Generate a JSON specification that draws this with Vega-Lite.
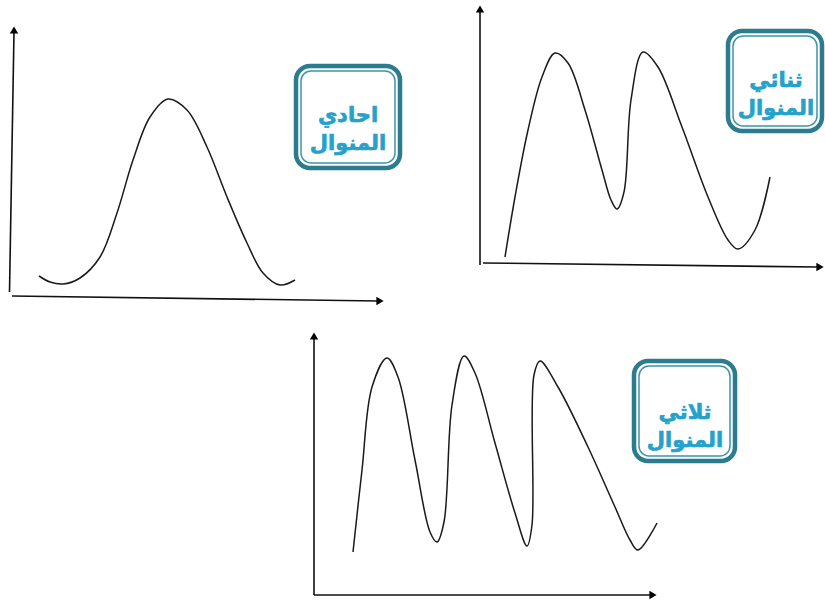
{
  "$schema": "https://vega.github.io/schema/vega-lite/v6.json",
  "width": 825,
  "height": 601,
  "autosize": {"type": "fit", "contains": "padding"},
  "padding": 0,
  "background": "white",
  "config": {"view": {"stroke": null}},
  "datasets": {
    "curves": [
      {"curve": "unimodal", "x": 39, "y": 276},
      {"curve": "unimodal", "x": 50, "y": 282},
      {"curve": "unimodal", "x": 63, "y": 284},
      {"curve": "unimodal", "x": 80, "y": 278},
      {"curve": "unimodal", "x": 100, "y": 257},
      {"curve": "unimodal", "x": 117, "y": 213},
      {"curve": "unimodal", "x": 133, "y": 160},
      {"curve": "unimodal", "x": 150, "y": 117},
      {"curve": "unimodal", "x": 168, "y": 99},
      {"curve": "unimodal", "x": 187, "y": 110},
      {"curve": "unimodal", "x": 207, "y": 147},
      {"curve": "unimodal", "x": 227, "y": 197},
      {"curve": "unimodal", "x": 247, "y": 243},
      {"curve": "unimodal", "x": 263, "y": 273},
      {"curve": "unimodal", "x": 280, "y": 285},
      {"curve": "unimodal", "x": 295, "y": 280},
      {"curve": "bimodal", "x": 505, "y": 257},
      {"curve": "bimodal", "x": 515, "y": 197},
      {"curve": "bimodal", "x": 528, "y": 130},
      {"curve": "bimodal", "x": 542, "y": 77},
      {"curve": "bimodal", "x": 555, "y": 53},
      {"curve": "bimodal", "x": 568, "y": 63},
      {"curve": "bimodal", "x": 585, "y": 110},
      {"curve": "bimodal", "x": 602, "y": 170},
      {"curve": "bimodal", "x": 611, "y": 200},
      {"curve": "bimodal", "x": 617, "y": 209},
      {"curve": "bimodal", "x": 624, "y": 192},
      {"curve": "bimodal", "x": 631, "y": 100},
      {"curve": "bimodal", "x": 643, "y": 52},
      {"curve": "bimodal", "x": 658, "y": 67},
      {"curve": "bimodal", "x": 682, "y": 127},
      {"curve": "bimodal", "x": 708, "y": 197},
      {"curve": "bimodal", "x": 728, "y": 240},
      {"curve": "bimodal", "x": 738, "y": 249},
      {"curve": "bimodal", "x": 755, "y": 230},
      {"curve": "bimodal", "x": 770, "y": 177},
      {"curve": "trimodal", "x": 353, "y": 552},
      {"curve": "trimodal", "x": 362, "y": 470},
      {"curve": "trimodal", "x": 372, "y": 387},
      {"curve": "trimodal", "x": 387, "y": 358},
      {"curve": "trimodal", "x": 398, "y": 377},
      {"curve": "trimodal", "x": 415, "y": 460},
      {"curve": "trimodal", "x": 430, "y": 532},
      {"curve": "trimodal", "x": 437, "y": 542},
      {"curve": "trimodal", "x": 444, "y": 522},
      {"curve": "trimodal", "x": 452, "y": 405},
      {"curve": "trimodal", "x": 464, "y": 356},
      {"curve": "trimodal", "x": 475, "y": 373},
      {"curve": "trimodal", "x": 495, "y": 443},
      {"curve": "trimodal", "x": 515, "y": 513},
      {"curve": "trimodal", "x": 527, "y": 546},
      {"curve": "trimodal", "x": 532, "y": 525},
      {"curve": "trimodal", "x": 534, "y": 375},
      {"curve": "trimodal", "x": 540, "y": 361},
      {"curve": "trimodal", "x": 558, "y": 387},
      {"curve": "trimodal", "x": 588, "y": 447},
      {"curve": "trimodal", "x": 615, "y": 507},
      {"curve": "trimodal", "x": 630, "y": 540},
      {"curve": "trimodal", "x": 638, "y": 550},
      {"curve": "trimodal", "x": 657, "y": 523}
    ],
    "axes": [
      {"panel": "unimodal", "dir": "up", "x": 9.5, "y": 292, "x2": 14, "y2": 32, "tx": 14, "ty": 30},
      {"panel": "unimodal", "dir": "right", "x": 12, "y": 296, "x2": 378, "y2": 301, "tx": 380, "ty": 301},
      {"panel": "bimodal", "dir": "up", "x": 480, "y": 265, "x2": 480, "y2": 12, "tx": 480, "ty": 9},
      {"panel": "bimodal", "dir": "right", "x": 483, "y": 263, "x2": 818, "y2": 267, "tx": 820, "ty": 267},
      {"panel": "trimodal", "dir": "up", "x": 314, "y": 595, "x2": 314, "y2": 338, "tx": 314, "ty": 336},
      {"panel": "trimodal", "dir": "right", "x": 314, "y": 595, "x2": 651, "y2": 595, "tx": 653, "ty": 595}
    ],
    "boxes": [
      {"panel": "unimodal", "x": 296, "x2": 400, "y": 66, "y2": 168, "ix": 301, "ix2": 395, "iy": 71, "iy2": 163, "cx": 348, "cy": 116, "label": "احادي\nالمنوال"},
      {"panel": "bimodal", "x": 728, "x2": 822, "y": 31, "y2": 131, "ix": 733, "ix2": 817, "iy": 36, "iy2": 126, "cx": 776, "cy": 81, "label": "ثنائي\nالمنوال"},
      {"panel": "trimodal", "x": 634, "x2": 735, "y": 361, "y2": 461, "ix": 639, "ix2": 730, "iy": 366, "iy2": 456, "cx": 685, "cy": 413, "label": "ثلاثي\nالمنوال"}
    ]
  },
  "layer": [
    {
      "data": {"name": "axes"},
      "mark": {"type": "rule", "color": "#111111", "strokeWidth": 1.6},
      "encoding": {
        "x": {"field": "x", "type": "quantitative", "scale": {"domain": [0, 825], "nice": false, "zero": false}, "axis": null},
        "y": {"field": "y", "type": "quantitative", "scale": {"domain": [0, 601], "nice": false, "zero": false, "reverse": true}, "axis": null},
        "x2": {"field": "x2"},
        "y2": {"field": "y2"}
      }
    },
    {
      "data": {"name": "axes"},
      "transform": [{"filter": "datum.dir === 'up'"}],
      "mark": {"type": "point", "shape": "triangle-up", "filled": true, "color": "#000000", "size": 70, "opacity": 1},
      "encoding": {
        "x": {"field": "tx", "type": "quantitative"},
        "y": {"field": "ty", "type": "quantitative"}
      }
    },
    {
      "data": {"name": "axes"},
      "transform": [{"filter": "datum.dir === 'right'"}],
      "mark": {"type": "point", "shape": "triangle-right", "filled": true, "color": "#000000", "size": 70, "opacity": 1},
      "encoding": {
        "x": {"field": "tx", "type": "quantitative"},
        "y": {"field": "ty", "type": "quantitative"}
      }
    },
    {
      "data": {"name": "curves"},
      "mark": {"type": "line", "interpolate": "catmull-rom", "color": "#1a1a1a", "strokeWidth": 1.5},
      "encoding": {
        "x": {"field": "x", "type": "quantitative"},
        "y": {"field": "y", "type": "quantitative"},
        "detail": {"field": "curve"}
      }
    },
    {
      "data": {"name": "boxes"},
      "mark": {"type": "rect", "fill": "white", "stroke": "#2a7c8e", "strokeWidth": 4.5, "cornerRadius": 14},
      "encoding": {
        "x": {"field": "x", "type": "quantitative"},
        "x2": {"field": "x2"},
        "y": {"field": "y", "type": "quantitative"},
        "y2": {"field": "y2"}
      }
    },
    {
      "data": {"name": "boxes"},
      "mark": {"type": "rect", "fill": "white", "stroke": "#3f94a6", "strokeWidth": 1.5, "cornerRadius": 10},
      "encoding": {
        "x": {"field": "ix", "type": "quantitative"},
        "x2": {"field": "ix2"},
        "y": {"field": "iy", "type": "quantitative"},
        "y2": {"field": "iy2"}
      }
    },
    {
      "data": {"name": "boxes"},
      "mark": {"type": "text", "font": "DejaVu Sans", "fontWeight": "bold", "fontSize": 21, "color": "#25a2cb", "stroke": "#25a2cb", "strokeWidth": 0.7, "align": "center", "baseline": "middle", "lineBreak": "\n", "lineHeight": 28},
      "encoding": {
        "x": {"field": "cx", "type": "quantitative"},
        "y": {"field": "cy", "type": "quantitative"},
        "text": {"field": "label"}
      }
    }
  ]
}
